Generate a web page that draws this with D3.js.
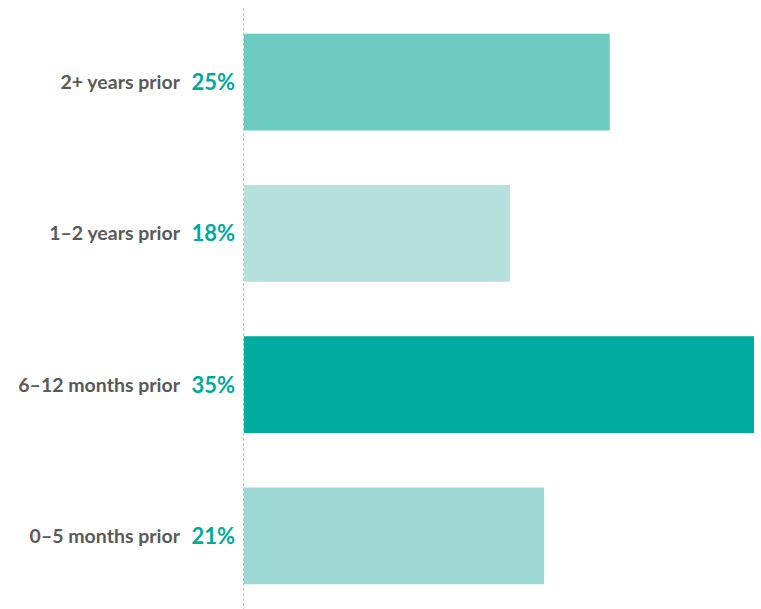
<!DOCTYPE html>
<html><head><meta charset="utf-8">
<script src="https://cdn.jsdelivr.net/npm/d3@7"></script>
<style>body{margin:0;background:#fff}svg{display:block}</style>
</head><body>
<script>
const categories = ["2+ years prior", "1–2 years prior", "6–12 months prior", "0–5 months prior"];
const values = [0.251, 0.1825, 0.35, 0.206];
const colors = ["#6ECBC2", "#B6E0DB", "#00AB9F", "#9ED8D2"];

const W = 761, H = 609;
const svg = d3.select("body").append("svg").attr("width", W).attr("height", H);

const x = d3.scaleLinear().domain([0, 0.35]).range([244, 754]);
const y = d3.scaleBand().domain(categories).range([6.5, 611.5]).paddingInner(0.36).paddingOuter(0.18);

svg.append("line").attr("x1", 243.5).attr("x2", 243.5).attr("y1", 8).attr("y2", H)
  .attr("stroke", "#c4c4c4").attr("stroke-width", 1).attr("stroke-dasharray", "3,2");

svg.selectAll("rect.bar").data(categories).join("rect").attr("class", "bar")
  .attr("x", x(0)).attr("y", d => y(d)).attr("height", y.bandwidth())
  .attr("width", (d, i) => x(values[i]) - x(0)).attr("fill", (d, i) => colors[i]);

const fmt = d3.format(".0%");
svg.selectAll("text.pct").data(categories).join("text").attr("class", "pct")
  .attr("x", 235).attr("y", d => y(d) + y.bandwidth() / 2).attr("dy", "0.36em")
  .attr("text-anchor", "end").attr("font-family", "Lato, sans-serif").attr("font-weight", 700)
  .attr("font-size", 22).attr("fill", "#00A99D").text((d, i) => fmt(values[i]));

svg.selectAll("text.lab").data(categories).join("text").attr("class", "lab")
  .attr("x", 180).attr("y", d => y(d) + y.bandwidth() / 2).attr("dy", "0.36em")
  .attr("text-anchor", "end").attr("font-family", "Lato, sans-serif").attr("font-weight", 700)
  .attr("font-size", 19.5).attr("fill", "#595959").text(d => d);
</script>
</body></html>
